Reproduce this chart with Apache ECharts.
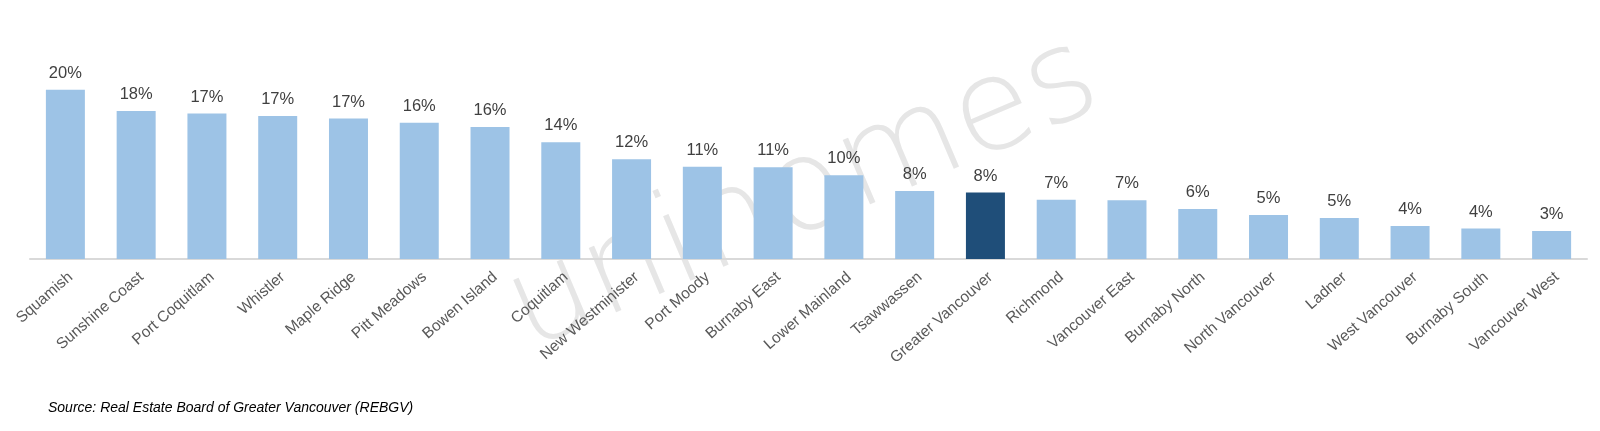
<!DOCTYPE html>
<html>
<head>
<meta charset="utf-8">
<script src="https://cdn.jsdelivr.net/npm/echarts@6/dist/echarts.min.js"></script>
<style>
html,body{margin:0;padding:0;background:#fff;}
#chart{width:1600px;height:431px;}
</style>
</head>
<body>
<div id="chart"></div>
<script>
const categories = ["Squamish","Sunshine Coast","Port Coquitlam","Whistler","Maple Ridge","Pitt Meadows","Bowen Island","Coquitlam","New Westminister","Port Moody","Burnaby East","Lower Mainland","Tsawwassen","Greater Vancouver","Richmond","Vancouver East","Burnaby North","North Vancouver","Ladner","West Vancouver","Burnaby South","Vancouver West"];
const values = [20.0,17.5,17.2,16.9,16.6,16.1,15.6,13.8,11.8,10.9,10.85,9.9,8.05,7.85,7.0,6.95,5.9,5.2,4.85,3.9,3.6,3.3];
const highlight = "Greater Vancouver";
const sourceText = "Source: Real Estate Board of Greater Vancouver (REBGV)";

const chart = echarts.init(document.getElementById('chart'));
chart.setOption({
  animation: false,
  backgroundColor: '#fff',
  grid: {left: 30, right: 13, top: 56, bottom: 172},
  graphic: [
    {type: 'text', z: -10, x: 540, y: 378, rotation: 23 * Math.PI / 180,
     style: {text: 'unihomes', font: '200 128px "DejaVu Sans ExtraLight", "DejaVu Sans", sans-serif', fill: '#e6e6e6', textVerticalAlign: 'bottom'}},
    {type: 'text', left: 48, top: 401,
     style: {text: sourceText, font: 'italic 14px "Liberation Sans", Arial, sans-serif', fill: '#000'}}
  ],
  xAxis: {
    type: 'category', data: categories,
    axisLine: {lineStyle: {color: '#d9d9d9', width: 2}},
    axisTick: {show: false},
    axisLabel: {interval: 0, rotate: 41, margin: 10, verticalAlign: 'top', fontSize: 15.5, color: '#595959', fontFamily: '"Liberation Sans", Arial, sans-serif'}
  },
  yAxis: {type: 'value', min: 0, max: 24, show: false, splitLine: {show: false}},
  series: [{
    type: 'bar', barWidth: 39,
    data: values.map((v, i) => ({value: v, itemStyle: {color: categories[i] === highlight ? '#1f4e79' : '#9dc3e6'}})),
    label: {show: true, position: 'top', distance: 8, fontSize: 16.5, color: '#404040',
      fontFamily: '"Liberation Sans", Arial, sans-serif',
      formatter: p => Math.round(p.value) + '%'}
  }]
});
</script>
</body>
</html>
